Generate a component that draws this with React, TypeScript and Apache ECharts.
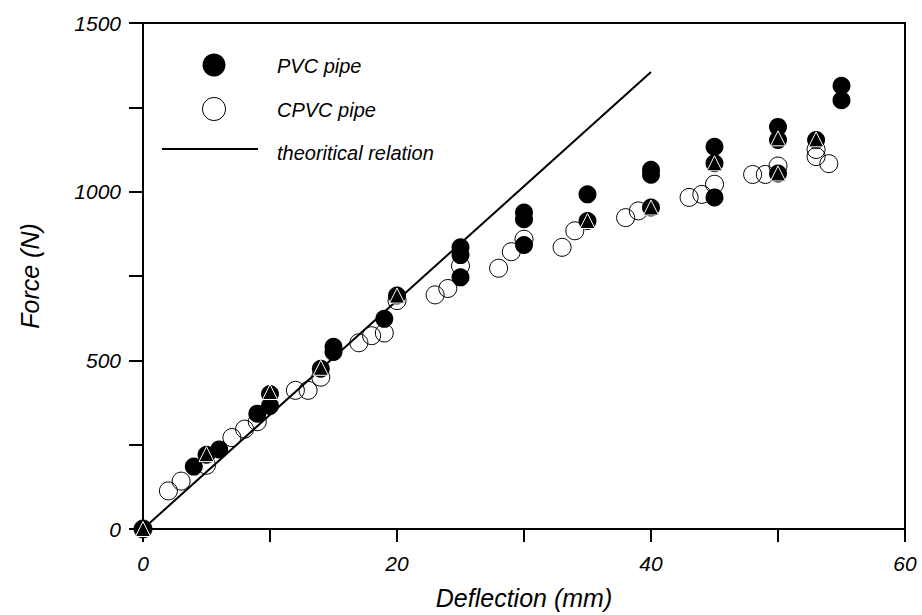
import React, { useEffect, useRef } from "react";
import * as echarts from "echarts";

const pvcPipe: [number, number][] = [
  [0, 0], [4, 185], [5, 220], [6, 236], [9, 342], [10, 365], [10, 400], [14, 475],
  [15, 525], [15, 540], [19, 623], [20, 692], [25, 746], [25, 812], [25, 835],
  [30, 842], [30, 918], [30, 938], [35, 913], [35, 992], [40, 953], [40, 1050],
  [40, 1065], [45, 983], [45, 1084], [45, 1133], [50, 1054], [50, 1153], [50, 1192],
  [53, 1153], [55, 1271], [55, 1314],
];

const cpvcPipe: [number, number][] = [
  [0, 0], [2, 113], [3, 142], [5, 189], [7, 271], [8, 296], [9, 318], [12, 411],
  [13, 411], [14, 450], [17, 552], [18, 573], [19, 581], [20, 677], [23, 694],
  [24, 713], [25, 780], [28, 773], [29, 822], [30, 859], [33, 835], [34, 884],
  [38, 923], [39, 943], [43, 983], [44, 992], [45, 1022], [48, 1051], [49, 1051],
  [50, 1076], [53, 1104], [53, 1125], [54, 1083],
];

const extraTriangles: [number, number][] = [
  [0, 0], [5, 222], [10, 406], [14, 478], [20, 692], [35, 913], [40, 953],
  [45, 1084], [50, 1158], [50, 1054], [53, 1155],
];

const theoreticalRelation: [number, number][] = [
  [0, 0], [40, 1355],
];

const legendLabels = ["PVC pipe", "CPVC pipe", "theoritical relation"];
const xAxisTitle = "Deflection (mm)";
const yAxisTitle = "Force (N)";

const FONT = "'Liberation Sans', Arial, sans-serif";

export default function App() {
  const ref = useRef<HTMLDivElement>(null);
  useEffect(() => {
    if (!ref.current) return;
    const chart = echarts.init(ref.current, undefined, { renderer: "svg" });
    const textBase = { fontFamily: FONT, fontStyle: "italic" as const, color: "#000" };
    chart.setOption({
      animation: false,
      backgroundColor: "#fff",
      grid: {
        left: 143, top: 23, right: 17, bottom: 84,
        show: true, borderColor: "#000", borderWidth: 2,
      },
      xAxis: {
        type: "value", min: 0, max: 60, interval: 10,
        name: xAxisTitle, nameLocation: "middle", nameGap: 56,
        nameTextStyle: { ...textBase, fontSize: 25 },
        axisLine: { show: true, lineStyle: { color: "#000", width: 2 } },
        axisTick: { show: true, length: 13, lineStyle: { color: "#000", width: 2 } },
        axisLabel: {
          ...textBase, fontSize: 21, margin: 24,
          formatter: (v: number) => (v % 20 === 0 ? String(v) : ""),
        },
        splitLine: { show: false },
      },
      yAxis: {
        type: "value", min: 0, max: 1500, interval: 250,
        name: yAxisTitle, nameLocation: "middle", nameGap: 101,
        nameTextStyle: { ...textBase, fontSize: 25 },
        axisLine: { show: true, lineStyle: { color: "#000", width: 2 } },
        axisTick: { show: true, length: 14, lineStyle: { color: "#000", width: 2 } },
        axisLabel: {
          ...textBase, fontSize: 21, margin: 22,
          formatter: (v: number) => (v % 500 === 0 ? String(v) : ""),
        },
        splitLine: { show: false },
      },
      series: [
        {
          type: "line", name: legendLabels[2], data: theoreticalRelation,
          showSymbol: false, lineStyle: { color: "#000", width: 2 }, z: 1,
        },
        {
          type: "scatter", name: legendLabels[1], data: cpvcPipe, symbol: "circle", symbolSize: 18,
          itemStyle: { color: "rgba(0,0,0,0)", borderColor: "#000", borderWidth: 1, opacity: 1 }, z: 2,
        },
        {
          type: "scatter", name: legendLabels[0], data: pvcPipe, symbol: "circle", symbolSize: 18,
          itemStyle: { color: "#000", opacity: 1 }, z: 3,
        },
        {
          type: "scatter", name: "triangles", data: extraTriangles, symbol: "triangle", symbolSize: 15,
          itemStyle: { color: "#000", borderColor: "#fff", borderWidth: 1, opacity: 1 }, z: 4,
        },
      ],
      graphic: [
        { type: "circle", shape: { cx: 214, cy: 65, r: 11.5 }, style: { fill: "#000" } },
        { type: "circle", shape: { cx: 214, cy: 109, r: 11.5 }, style: { fill: "#fff", stroke: "#000", lineWidth: 1 } },
        { type: "line", shape: { x1: 162, y1: 149, x2: 258, y2: 149 }, style: { stroke: "#000", lineWidth: 2 } },
        { type: "text", x: 277, y: 66, style: { text: legendLabels[0], font: `italic 20px ${FONT}`, fill: "#000", verticalAlign: "middle" } },
        { type: "text", x: 277, y: 110, style: { text: legendLabels[1], font: `italic 20px ${FONT}`, fill: "#000", verticalAlign: "middle" } },
        { type: "text", x: 277, y: 153, style: { text: legendLabels[2], font: `italic 20px ${FONT}`, fill: "#000", verticalAlign: "middle" } },
      ],
    });
    return () => chart.dispose();
  }, []);
  return (
    <div
      ref={ref}
      style={{ position: "fixed", left: 0, top: 0, width: 922, height: 615, background: "#fff" }}
    />
  );
}
